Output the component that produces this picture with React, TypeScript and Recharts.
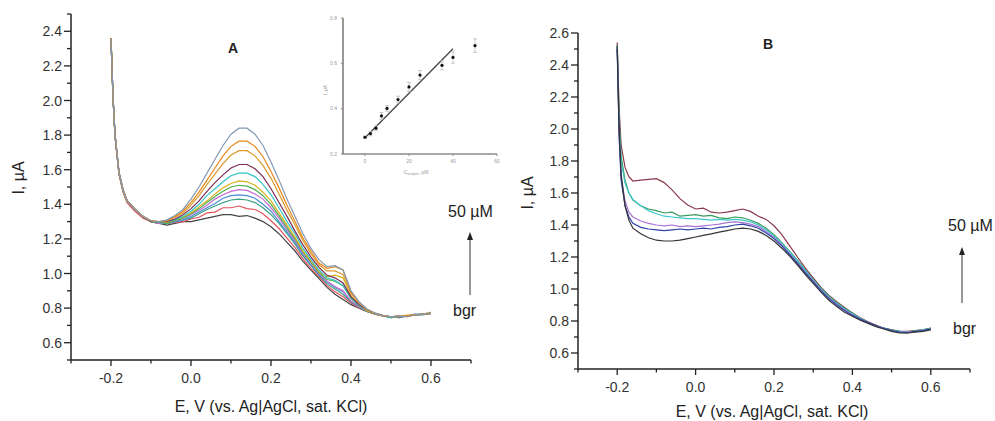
import React from 'react'
import { LineChart, Line, XAxis, YAxis, ComposedChart, Scatter, ErrorBar } from 'recharts'

const fontFamily = '"Liberation Sans", Arial, Helvetica, sans-serif'

// Potential grid, V vs. Ag|AgCl (denser near the start spike)
const potential = [
  -0.2, -0.195, -0.19, -0.18, -0.17, -0.16, -0.14, -0.12, -0.1, -0.08, -0.06, -0.04, -0.02, 0,
  0.02, 0.04, 0.06, 0.08, 0.1, 0.12, 0.14, 0.16, 0.18, 0.2, 0.22, 0.24, 0.26, 0.28, 0.3, 0.32,
  0.34, 0.36, 0.38, 0.4, 0.42, 0.44, 0.46, 0.48, 0.5, 0.52, 0.54, 0.56, 0.58, 0.6,
]

// Panel A: background + increasing additions, current in µA
const aBgr = [2.36, 2.02, 1.8, 1.58, 1.48, 1.42, 1.37, 1.33, 1.3, 1.29, 1.28, 1.29, 1.3, 1.3, 1.31, 1.32, 1.33, 1.34, 1.34, 1.33, 1.335, 1.32, 1.3, 1.27, 1.23, 1.18, 1.13, 1.07, 1.02, 0.97, 0.92, 0.88, 0.85, 0.82, 0.8, 0.78, 0.765, 0.755, 0.75, 0.745, 0.755, 0.76, 0.765, 0.77]
const aC1 = [2.36, 2.01, 1.79, 1.57, 1.47, 1.41, 1.36, 1.32, 1.3, 1.29, 1.29, 1.295, 1.3, 1.315, 1.325, 1.35, 1.355, 1.38, 1.38, 1.39, 1.375, 1.37, 1.345, 1.305, 1.26, 1.205, 1.15, 1.085, 1.03, 0.98, 0.93, 0.895, 0.865, 0.83, 0.8, 0.78, 0.765, 0.755, 0.75, 0.755, 0.75, 0.76, 0.765, 0.77]
const aC2 = [2.35, 2.02, 1.8, 1.58, 1.48, 1.42, 1.37, 1.33, 1.3, 1.29, 1.29, 1.3, 1.31, 1.32, 1.345, 1.37, 1.39, 1.41, 1.425, 1.43, 1.425, 1.41, 1.38, 1.34, 1.29, 1.23, 1.17, 1.1, 1.045, 0.99, 0.94, 0.91, 0.88, 0.835, 0.805, 0.78, 0.766, 0.755, 0.745, 0.75, 0.755, 0.76, 0.76, 0.77]
const aC3 = [2.36, 2.03, 1.81, 1.59, 1.49, 1.42, 1.37, 1.33, 1.3, 1.295, 1.29, 1.3, 1.31, 1.33, 1.355, 1.38, 1.405, 1.435, 1.45, 1.455, 1.45, 1.435, 1.4, 1.36, 1.3, 1.24, 1.18, 1.11, 1.05, 0.995, 0.95, 0.92, 0.895, 0.84, 0.81, 0.785, 0.767, 0.756, 0.75, 0.745, 0.755, 0.765, 0.765, 0.775]
const aC4 = [2.36, 2.02, 1.8, 1.58, 1.48, 1.42, 1.37, 1.33, 1.3, 1.29, 1.295, 1.305, 1.32, 1.34, 1.365, 1.395, 1.43, 1.455, 1.475, 1.485, 1.48, 1.46, 1.43, 1.38, 1.32, 1.255, 1.19, 1.115, 1.06, 1.0, 0.955, 0.925, 0.9, 0.84, 0.81, 0.785, 0.767, 0.756, 0.75, 0.75, 0.755, 0.76, 0.765, 0.77]
const aC5 = [2.36, 2.02, 1.8, 1.58, 1.48, 1.42, 1.37, 1.33, 1.3, 1.295, 1.29, 1.305, 1.32, 1.345, 1.375, 1.41, 1.445, 1.475, 1.5, 1.51, 1.505, 1.485, 1.45, 1.4, 1.335, 1.265, 1.2, 1.125, 1.065, 1.005, 0.965, 0.955, 0.93, 0.855, 0.815, 0.785, 0.768, 0.756, 0.745, 0.75, 0.755, 0.76, 0.765, 0.77]
const aC6 = [2.36, 2.02, 1.8, 1.58, 1.48, 1.42, 1.37, 1.33, 1.3, 1.295, 1.295, 1.31, 1.325, 1.35, 1.385, 1.42, 1.46, 1.495, 1.52, 1.535, 1.53, 1.51, 1.47, 1.42, 1.35, 1.28, 1.21, 1.13, 1.07, 1.01, 0.98, 0.99, 0.975, 0.87, 0.82, 0.785, 0.768, 0.756, 0.75, 0.75, 0.76, 0.76, 0.765, 0.775]
const aC7 = [2.36, 2.02, 1.8, 1.58, 1.48, 1.42, 1.37, 1.33, 1.3, 1.295, 1.3, 1.31, 1.33, 1.36, 1.4, 1.45, 1.49, 1.53, 1.565, 1.58, 1.58, 1.56, 1.515, 1.455, 1.38, 1.3, 1.23, 1.145, 1.08, 1.02, 0.975, 0.96, 0.93, 0.86, 0.815, 0.79, 0.769, 0.756, 0.745, 0.75, 0.755, 0.76, 0.765, 0.77]
const aC8 = [2.36, 2.02, 1.8, 1.58, 1.48, 1.42, 1.37, 1.33, 1.3, 1.3, 1.3, 1.315, 1.34, 1.375, 1.42, 1.475, 1.525, 1.57, 1.61, 1.63, 1.63, 1.605, 1.56, 1.49, 1.41, 1.33, 1.245, 1.165, 1.095, 1.035, 0.99, 0.975, 0.945, 0.865, 0.82, 0.79, 0.77, 0.757, 0.75, 0.75, 0.755, 0.76, 0.765, 0.77]
const aC9 = [2.36, 2.02, 1.8, 1.58, 1.48, 1.42, 1.37, 1.33, 1.305, 1.3, 1.305, 1.325, 1.35, 1.395, 1.45, 1.515, 1.575, 1.635, 1.685, 1.71, 1.71, 1.68, 1.625, 1.55, 1.46, 1.365, 1.28, 1.19, 1.115, 1.05, 1.015, 1.015, 0.995, 0.885, 0.83, 0.79, 0.77, 0.757, 0.75, 0.755, 0.755, 0.76, 0.765, 0.77]
const aC10 = [2.36, 2.02, 1.8, 1.58, 1.48, 1.42, 1.37, 1.33, 1.305, 1.3, 1.305, 1.33, 1.36, 1.41, 1.47, 1.54, 1.61, 1.68, 1.735, 1.765, 1.765, 1.735, 1.675, 1.59, 1.495, 1.395, 1.3, 1.205, 1.13, 1.06, 1.03, 1.04, 1.02, 0.895, 0.835, 0.793, 0.77, 0.757, 0.75, 0.75, 0.755, 0.76, 0.765, 0.77]
const aC11 = [2.36, 2.02, 1.8, 1.58, 1.48, 1.42, 1.37, 1.33, 1.305, 1.3, 1.31, 1.335, 1.37, 1.43, 1.5, 1.58, 1.66, 1.74, 1.805, 1.84, 1.84, 1.805, 1.74, 1.645, 1.54, 1.43, 1.33, 1.23, 1.145, 1.08, 1.04, 1.045, 1.02, 0.9, 0.835, 0.795, 0.772, 0.758, 0.75, 0.755, 0.75, 0.76, 0.765, 0.77]

// Panel B
const bBgr = [2.52, 2.0, 1.72, 1.52, 1.43, 1.38, 1.345, 1.32, 1.305, 1.3, 1.3, 1.305, 1.315, 1.325, 1.335, 1.345, 1.355, 1.365, 1.375, 1.38, 1.375, 1.36, 1.335, 1.3, 1.255, 1.205, 1.15, 1.09, 1.035, 0.98, 0.93, 0.89, 0.855, 0.83, 0.805, 0.785, 0.765, 0.75, 0.735, 0.725, 0.725, 0.73, 0.735, 0.745]
const bBlue = [2.5, 1.95, 1.68, 1.52, 1.45, 1.41, 1.385, 1.375, 1.37, 1.365, 1.37, 1.375, 1.37, 1.375, 1.38, 1.375, 1.385, 1.39, 1.4, 1.405, 1.395, 1.38, 1.35, 1.315, 1.27, 1.215, 1.16, 1.1, 1.045, 0.99, 0.94, 0.9, 0.865, 0.835, 0.81, 0.79, 0.77, 0.755, 0.74, 0.73, 0.725, 0.735, 0.74, 0.75]
const bViolet = [2.5, 1.96, 1.7, 1.55, 1.48, 1.45, 1.425, 1.41, 1.4, 1.395, 1.4, 1.39, 1.395, 1.39, 1.395, 1.4, 1.405, 1.415, 1.42, 1.415, 1.405, 1.39, 1.36, 1.32, 1.275, 1.22, 1.165, 1.105, 1.05, 0.995, 0.945, 0.905, 0.87, 0.84, 0.81, 0.79, 0.77, 0.755, 0.74, 0.73, 0.73, 0.735, 0.74, 0.75]
const bCyan = [2.52, 2.02, 1.8, 1.66, 1.6, 1.56, 1.52, 1.49, 1.47, 1.455, 1.45, 1.445, 1.44, 1.44, 1.435, 1.43, 1.435, 1.43, 1.435, 1.43, 1.42, 1.4, 1.37, 1.33, 1.285, 1.23, 1.175, 1.115, 1.055, 1.0, 0.95, 0.91, 0.875, 0.845, 0.815, 0.79, 0.77, 0.755, 0.74, 0.735, 0.73, 0.735, 0.745, 0.75]
const bGreen = [2.52, 2.05, 1.83, 1.68, 1.6, 1.555, 1.52, 1.5, 1.49, 1.475, 1.48, 1.455, 1.46, 1.465, 1.455, 1.46, 1.445, 1.44, 1.45, 1.445, 1.43, 1.41, 1.38, 1.34, 1.29, 1.235, 1.18, 1.12, 1.06, 1.005, 0.955, 0.915, 0.88, 0.85, 0.815, 0.79, 0.77, 0.755, 0.745, 0.735, 0.73, 0.74, 0.745, 0.755]
const bWine = [2.54, 2.12, 1.9, 1.76, 1.7, 1.675, 1.68, 1.685, 1.69, 1.665, 1.62, 1.565, 1.525, 1.5, 1.505, 1.48, 1.475, 1.48, 1.49, 1.5, 1.485, 1.455, 1.435, 1.395, 1.34, 1.27, 1.2, 1.13, 1.07, 1.01, 0.96, 0.92, 0.885, 0.85, 0.82, 0.795, 0.775, 0.755, 0.745, 0.735, 0.735, 0.74, 0.745, 0.755]

// Inset: peak current vs. concentration
const concentration = [0, 2.5, 5, 7.5, 10, 15, 20, 25, 35, 40, 50]
const peakCurrent = [0.274, 0.29, 0.314, 0.368, 0.401, 0.44, 0.496, 0.548, 0.591, 0.626, 0.678]
const peakError = [0.005, 0.01, 0.01, 0.015, 0.012, 0.015, 0.02, 0.02, 0.02, 0.025, 0.03]
const fitConc = [0, 40]
const fitCurrent = [0.272, 0.664]

// Axis ticks (labels on the even tenths, minor marks between)
const xTicks = [-0.3, -0.2, -0.1, 0, 0.1, 0.2, 0.3, 0.4, 0.5, 0.6, 0.7]
const yTicksA = [0.5, 0.6, 0.7, 0.8, 0.9, 1.0, 1.1, 1.2, 1.3, 1.4, 1.5, 1.6, 1.7, 1.8, 1.9, 2.0, 2.1, 2.2, 2.3, 2.4, 2.5]
const yTicksB = [0.5, 0.6, 0.7, 0.8, 0.9, 1.0, 1.1, 1.2, 1.3, 1.4, 1.5, 1.6, 1.7, 1.8, 1.9, 2.0, 2.1, 2.2, 2.3, 2.4, 2.5, 2.6]
const insetXTicks = [0, 20, 40, 60]
const insetYTicks = [0.2, 0.4, 0.6, 0.8]

const seriesA = [
  { key: 'bgr', values: aBgr, color: '#444444' },
  { key: 'c1', values: aC1, color: '#e4525e' },
  { key: 'c2', values: aC2, color: '#3a9f86' },
  { key: 'c3', values: aC3, color: '#4a8fd6' },
  { key: 'c4', values: aC4, color: '#c46bd0' },
  { key: 'c5', values: aC5, color: '#4caf50' },
  { key: 'c6', values: aC6, color: '#d6b21e' },
  { key: 'c7', values: aC7, color: '#32c2c8' },
  { key: 'c8', values: aC8, color: '#7b2d55' },
  { key: 'c9', values: aC9, color: '#d99a2c' },
  { key: 'c10', values: aC10, color: '#e8861a' },
  { key: 'c11', values: aC11, color: '#8499b5' },
]

const seriesB = [
  { key: 'wine', values: bWine, color: '#8b3a4c' },
  { key: 'green', values: bGreen, color: '#3a9a5c' },
  { key: 'cyan', values: bCyan, color: '#3cc8cc' },
  { key: 'violet', values: bViolet, color: '#a874d4' },
  { key: 'blue', values: bBlue, color: '#2f44a8' },
  { key: 'bgr', values: bBgr, color: '#333333' },
]

const rowsA = potential.map((e, i) => {
  const row: Record<string, number> = { e }
  seriesA.forEach((s) => (row[s.key] = s.values[i]))
  return row
})

const rowsB = potential.map((e, i) => {
  const row: Record<string, number> = { e }
  seriesB.forEach((s) => (row[s.key] = s.values[i]))
  return row
})

const insetPoints = concentration.map((c, i) => ({ c, i: peakCurrent[i], err: peakError[i] }))
const insetFit = fitConc.map((c, i) => ({ c, i: fitCurrent[i] }))

const isMajor = (v: number) => Math.round(v * 10) % 2 === 0

function XTick(props: any) {
  const { x, y, payload } = props
  const v = payload.value as number
  const major = isMajor(v)
  return (
    <g>
      <line x1={x} x2={x} y1={y} y2={y + (major ? 6 : 3.5)} stroke="#222" strokeWidth={1.3} />
      {major && (
        <text x={x} y={y + 23} textAnchor="middle" fontSize={14} fill="#333" fontFamily={fontFamily}>
          {v.toFixed(1)}
        </text>
      )}
    </g>
  )
}

function YTick(props: any) {
  const { x, y, payload } = props
  const v = payload.value as number
  const major = isMajor(v)
  return (
    <g>
      <line x1={x - (major ? 7 : 4)} x2={x} y1={y} y2={y} stroke="#222" strokeWidth={1.3} />
      {major && (
        <text x={x - 9} y={y + 5} textAnchor="end" fontSize={14} fill="#333" fontFamily={fontFamily}>
          {v.toFixed(1)}
        </text>
      )}
    </g>
  )
}

const axisLine = { stroke: '#222', strokeWidth: 1.5 }

function Arrow({ x, y1, y2 }: { x: number; y1: number; y2: number }) {
  return (
    <g>
      <line x1={x} x2={x} y1={y1} y2={y2 + 6} stroke="#333" strokeWidth={1} />
      <polygon points={`${x},${y2} ${x - 3},${y2 + 8} ${x + 3},${y2 + 8}`} fill="#222" />
    </g>
  )
}

export default function App() {
  return (
    <div style={{ position: 'absolute', left: 0, top: 0, width: 995, height: 421, background: '#fff', fontFamily }}>
      <div style={{ position: 'absolute', left: 0, top: 0 }}>
        <LineChart width={480} height={421} data={rowsA} margin={{ top: 14, right: 9, left: 0, bottom: 0 }}>
          <XAxis
            dataKey="e"
            type="number"
            domain={[-0.3, 0.7]}
            ticks={xTicks}
            interval={0}
            tick={<XTick />}
            tickLine={false}
            tickSize={0}
            tickMargin={0}
            axisLine={axisLine}
            height={61}
          />
          <YAxis
            type="number"
            domain={[0.5, 2.5]}
            ticks={yTicksA}
            interval={0}
            tick={<YTick />}
            tickLine={false}
            tickSize={0}
            tickMargin={0}
            axisLine={axisLine}
            width={71}
          />
          {seriesA.map((s) => (
            <Line
              key={s.key}
              dataKey={s.key}
              type="linear"
              stroke={s.color}
              strokeWidth={1.2}
              dot={false}
              activeDot={false}
              isAnimationActive={false}
            />
          ))}
        </LineChart>
      </div>

      <div style={{ position: 'absolute', left: 300, top: 0 }}>
        <ComposedChart width={200} height={175} margin={{ top: 18, right: 3, left: 0, bottom: 0 }}>
          <XAxis
            dataKey="c"
            type="number"
            domain={[-10, 60]}
            ticks={insetXTicks}
            interval={0}
            tick={{ fontSize: 5, fill: '#999' }}
            tickSize={2}
            tickMargin={3}
            tickLine={{ stroke: '#888' }}
            axisLine={{ stroke: '#555', strokeWidth: 1.2 }}
            height={21}
          />
          <YAxis
            type="number"
            domain={[0.2, 0.8]}
            ticks={insetYTicks}
            interval={0}
            tickFormatter={(v: number) => v.toFixed(1)}
            tick={{ fontSize: 5, fill: '#999' }}
            tickSize={2}
            tickMargin={4}
            tickLine={{ stroke: '#888' }}
            axisLine={{ stroke: '#555', strokeWidth: 1.2 }}
            width={43}
          />
          <Line
            data={insetFit}
            dataKey="i"
            type="linear"
            stroke="#444"
            strokeWidth={1.3}
            dot={false}
            activeDot={false}
            isAnimationActive={false}
          />
          <Scatter
            data={insetPoints}
            dataKey="i"
            isAnimationActive={false}
            shape={(p: any) => <circle cx={p.cx} cy={p.cy} r={1.6} fill="#111" />}
          >
            <ErrorBar dataKey="err" direction="y" width={2} stroke="#bbb" strokeWidth={0.8} />
          </Scatter>
        </ComposedChart>
      </div>

      <div style={{ position: 'absolute', left: 490, top: 0 }}>
        <LineChart width={490} height={421} data={rowsB} margin={{ top: 33, right: 10, left: 0, bottom: 0 }}>
          <XAxis
            dataKey="e"
            type="number"
            domain={[-0.3, 0.7]}
            ticks={xTicks}
            interval={0}
            tick={<XTick />}
            tickLine={false}
            tickSize={0}
            tickMargin={0}
            axisLine={axisLine}
            height={52}
          />
          <YAxis
            type="number"
            domain={[0.5, 2.6]}
            ticks={yTicksB}
            interval={0}
            tick={<YTick />}
            tickLine={false}
            tickSize={0}
            tickMargin={0}
            axisLine={axisLine}
            width={88}
          />
          {seriesB.map((s) => (
            <Line
              key={s.key}
              dataKey={s.key}
              type="linear"
              stroke={s.color}
              strokeWidth={1.2}
              dot={false}
              activeDot={false}
              isAnimationActive={false}
            />
          ))}
        </LineChart>
      </div>

      <svg
        width={995}
        height={421}
        style={{ position: 'absolute', left: 0, top: 0, pointerEvents: 'none' }}
        fontFamily={fontFamily}
      >
        {/* panel letters */}
        <text x={233} y={53} textAnchor="middle" fontSize={14} fontWeight="bold" fill="#222">A</text>
        <text x={768} y={49} textAnchor="middle" fontSize={14} fontWeight="bold" fill="#222">B</text>

        {/* axis titles */}
        <text x={271} y={412} textAnchor="middle" fontSize={16} fill="#222">E, V (vs. Ag|AgCl, sat. KCl)</text>
        <text x={772} y={417} textAnchor="middle" fontSize={16} fill="#222">E, V (vs. Ag|AgCl, sat. KCl)</text>
        <text transform="translate(24,178) rotate(-90)" textAnchor="middle" fontSize={16} fill="#222">I, µA</text>
        <text transform="translate(533,193) rotate(-90)" textAnchor="middle" fontSize={16} fill="#222">I, µA</text>

        {/* inset axis titles */}
        <text transform="translate(327,90) rotate(-90)" textAnchor="middle" fontSize={5} fill="#999">I, µA</text>
        <text x={416} y={174} textAnchor="middle" fontSize={5} fill="#999">
          C<tspan fontSize={3.5} dy={1}>analyte</tspan><tspan dy={-1}>, µM</tspan>
        </text>

        {/* concentration direction markers */}
        <text x={448} y={217} fontSize={16} fill="#222">50 µM</text>
        <Arrow x={470} y1={295} y2={232} />
        <text x={453} y={316} fontSize={16} fill="#222">bgr</text>

        <text x={948} y={231} fontSize={16} fill="#222">50 µM</text>
        <Arrow x={962} y1={303} y2={247} />
        <text x={953} y={334} fontSize={16} fill="#222">bgr</text>
      </svg>
    </div>
  )
}
